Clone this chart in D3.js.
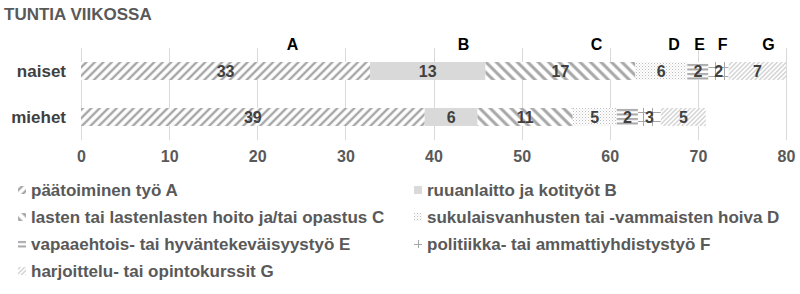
<!DOCTYPE html>
<html>
<head>
<meta charset="utf-8">
<script src="https://cdn.jsdelivr.net/npm/d3@7"></script>
<style>
  body { margin: 0; background: #fff; }
  svg { display: block; font-family: "Liberation Sans", Arial, sans-serif; font-weight: bold; }
</style>
</head>
<body>
<div id="chart"></div>
<script>
// data
const groups = ["naiset", "miehet"];
const activities = ["A", "B", "C", "D", "E", "F", "G"];
const activityNames = [
  "päätoiminen työ A",
  "ruuanlaitto ja kotityöt B",
  "lasten tai lastenlasten hoito ja/tai opastus C",
  "sukulaisvanhusten tai -vammaisten hoiva D",
  "vapaaehtois- tai hyväntekeväisyystyö E",
  "politiikka- tai ammattiyhdistystyö F",
  "harjoittelu- tai opintokurssit G"
];
const naisetHours = [32.8, 13.1, 17.0, 5.9, 2.4, 2.3, 6.5];
const miehetHours = [39.0, 6.0, 10.8, 5.0, 2.4, 2.6, 5.1];
const xTicks = [0, 10, 20, 30, 40, 50, 60, 70, 80];
// where the A..G header letters sit, in hours
const letterAt = [24, 43.4, 58.5, 67.3, 70.2, 72.8, 78];

const width = 800, height = 294;
const margin = {top: 48, left: 81, right: 14, bottom: 154};

const svg = d3.select("#chart").append("svg")
  .attr("width", width)
  .attr("height", height);

const defs = svg.append("defs");

function stripes(id, angle, period, stroke, color) {
  const p = defs.append("pattern")
    .attr("id", id)
    .attr("patternUnits", "userSpaceOnUse")
    .attr("width", period).attr("height", period)
    .attr("patternTransform", "rotate(" + angle + ")");
  p.append("rect").attr("width", period).attr("height", period).attr("fill", "#fff");
  p.append("line")
    .attr("x1", period / 2).attr("x2", period / 2)
    .attr("y1", 0).attr("y2", period)
    .attr("stroke", color).attr("stroke-width", stroke);
}

stripes("patA", 45, 6, 2.4, "#a6a6a6");
stripes("patC", -45, 7.4, 3, "#a6a6a6");
stripes("patG", 45, 3.2, 1, "#bfbfbf");

// B solid
defs.append("pattern").attr("id", "patB")
  .attr("patternUnits", "userSpaceOnUse").attr("width", 4).attr("height", 4)
  .append("rect").attr("width", 4).attr("height", 4).attr("fill", "#d9d9d9");

// D dots
const pD = defs.append("pattern").attr("id", "patD")
  .attr("patternUnits", "userSpaceOnUse").attr("width", 3).attr("height", 3);
pD.append("rect").attr("width", 3).attr("height", 3).attr("fill", "#fff");
pD.append("rect").attr("width", 1).attr("height", 1).attr("fill", "#bcbcbc");
pD.append("rect").attr("x", 1.5).attr("y", 1.5).attr("width", 1).attr("height", 1).attr("fill", "#d6d6d6");

// E horizontal lines
const pE = defs.append("pattern").attr("id", "patE")
  .attr("patternUnits", "userSpaceOnUse").attr("width", 4).attr("height", 4.5);
pE.append("rect").attr("width", 4).attr("height", 4.5).attr("fill", "#fff");
pE.append("rect").attr("y", 1).attr("width", 4).attr("height", 2).attr("fill", "#a6a6a6");

// F cross
const pF = defs.append("pattern").attr("id", "patF")
  .attr("patternUnits", "userSpaceOnUse").attr("width", 9).attr("height", 9);
pF.append("rect").attr("width", 9).attr("height", 9).attr("fill", "#fff");
pF.append("rect").attr("x", 4).attr("width", 1).attr("height", 9).attr("fill", "#a6a6a6");
pF.append("rect").attr("y", 4).attr("width", 9).attr("height", 1).attr("fill", "#a6a6a6");

const fills = ["patA", "patB", "patC", "patD", "patE", "patF", "patG"];

// title
svg.append("text")
  .attr("x", 4).attr("y", 20)
  .attr("font-size", 17)
  .attr("fill", "#595959")
  .text("TUNTIA VIIKOSSA");

const xScale = d3.scaleLinear()
  .domain([0, 80])
  .range([margin.left, width - 14]);

const yScale = d3.scaleBand()
  .domain(groups)
  .range([48, 140])
  .paddingInner(0.61)
  .paddingOuter(0.305);

// gridlines
svg.append("g").selectAll("line")
  .data(xTicks)
  .enter().append("line")
  .attr("x1", d => Math.round(xScale(d)) + 0.5)
  .attr("x2", d => Math.round(xScale(d)) + 0.5)
  .attr("y1", 48).attr("y2", 140)
  .attr("stroke", "#d9d9d9");

// x axis labels
const xAxis = svg.append("g")
  .attr("transform", "translate(0,140)")
  .call(d3.axisBottom(xScale).tickValues(xTicks).tickSize(0).tickPadding(11));
xAxis.select(".domain").remove();
xAxis.selectAll("text")
  .attr("font-family", "Liberation Sans, Arial, sans-serif")
  .attr("font-weight", "bold")
  .attr("font-size", 16)
  .attr("fill", "#595959");

// y labels
svg.append("g").selectAll("text")
  .data(groups)
  .enter().append("text")
  .attr("x", 66)
  .attr("y", d => yScale(d) + yScale.bandwidth() / 2)
  .attr("dy", "0.35em")
  .attr("text-anchor", "end")
  .attr("font-size", 17)
  .attr("fill", "#404040")
  .text(d => d);

// stack
const rows = groups.map((g, i) => {
  const vals = i === 0 ? naisetHours : miehetHours;
  let x0 = 0;
  return vals.map((v, j) => {
    const seg = {group: g, key: activities[j], value: v, x0: x0, x1: x0 + v, fill: fills[j]};
    x0 += v;
    return seg;
  });
});
const segments = rows.flat();

svg.append("g").selectAll("rect")
  .data(segments)
  .enter().append("rect")
  .attr("x", d => xScale(d.x0))
  .attr("y", d => yScale(d.group))
  .attr("width", d => xScale(d.x1) - xScale(d.x0))
  .attr("height", yScale.bandwidth())
  .attr("fill", d => "url(#" + d.fill + ")");

svg.append("g").selectAll("text")
  .data(segments)
  .enter().append("text")
  .attr("x", d => xScale((d.x0 + d.x1) / 2))
  .attr("y", d => yScale(d.group) + yScale.bandwidth() / 2)
  .attr("dy", "0.36em")
  .attr("text-anchor", "middle")
  .attr("font-size", 16)
  .attr("fill", "#404040")
  .text(d => Math.round(d.value));

// header letters
svg.append("g").selectAll("text")
  .data(activities)
  .enter().append("text")
  .attr("x", (d, i) => xScale(letterAt[i]))
  .attr("y", 50)
  .attr("text-anchor", "middle")
  .attr("font-size", 16)
  .attr("fill", "#000")
  .text(d => d);

// legend
const legend = svg.append("g").selectAll("g")
  .data(activityNames)
  .enter().append("g")
  .attr("transform", (d, i) => "translate(" + (i % 2 === 0 ? 18 : 414) + "," + (186 + Math.floor(i / 2) * 27) + ")");

legend.append("rect")
  .attr("x", 0).attr("y", 0)
  .attr("width", 8).attr("height", 8)
  .attr("fill", (d, i) => "url(#" + fills[i] + ")");

legend.append("text")
  .attr("x", 13)
  .attr("y", 4)
  .attr("dy", "0.36em")
  .attr("font-size", 17)
  .attr("fill", "#595959")
  .text(d => d);
</script>
</body>
</html>
